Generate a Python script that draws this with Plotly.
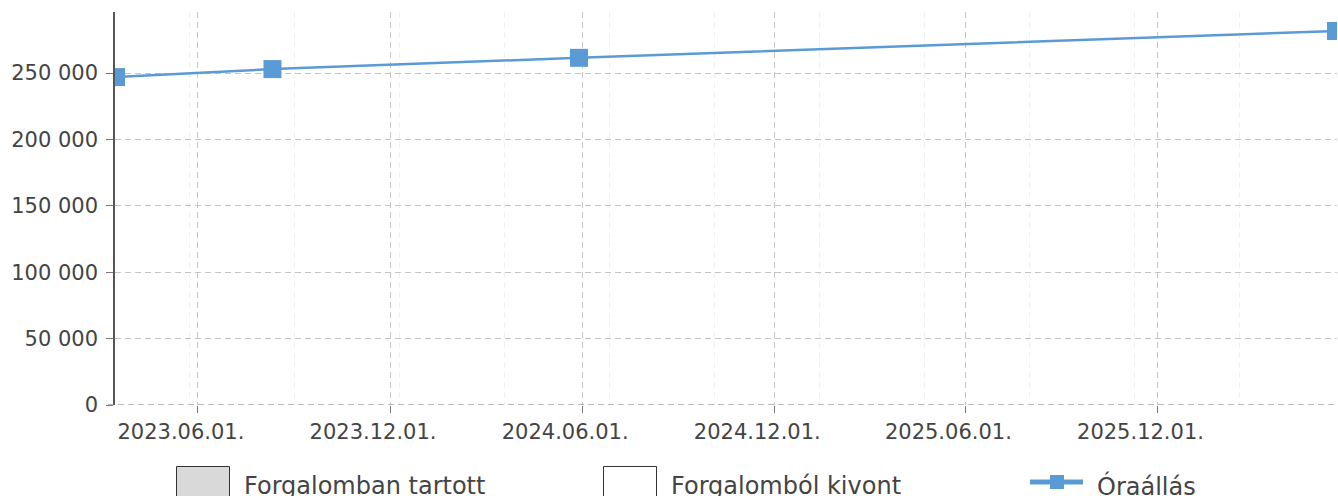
import plotly.graph_objects as go

# ---- data ----
dates = ["2023-03-15", "2023-08-11", "2024-05-29", "2026-05-20"]
readings = [247000, 253000, 261500, 281700]
series_name = "Óraállás"
legend_labels = ["Forgalomban tartott", "Forgalomból kivont", "Óraállás"]
y_ticks = [0, 50000, 100000, 150000, 200000, 250000]

W, H = 1338, 496
L, R, T, B = 115, 1, 12, 91
PW = W - L - R
PH = H - T - B

def px(x):
    return (x - L) / PW

def py(y):
    return (H - B - y) / PH

BLUE = "#5b9bd5"
TXT = "#444444"
FONT = "DejaVu Sans"

fig = go.Figure()
fig.add_trace(go.Scatter(
    x=dates, y=readings, name=series_name, mode="lines+markers",
    line=dict(color=BLUE, width=2.5),
    marker=dict(symbol="square", size=18, color=BLUE, line=dict(width=0)),
    cliponaxis=True, showlegend=False,
))

fig.update_layout(
    width=W, height=H,
    margin=dict(l=L, r=R, t=T, b=B, pad=0),
    paper_bgcolor="white", plot_bgcolor="white",
    separators=". ",
    font=dict(family=FONT, size=21, color=TXT),
    showlegend=False,
)

fig.update_xaxes(
    type="date",
    range=["2023-03-14", "2026-05-21"],
    tickmode="linear", tick0="2023-06-01", dtick="M6",
    tickformat="%Y.%m.%d.",
    ticks="outside", ticklen=7, tickcolor="#777777", tickwidth=1,
    showgrid=True, gridcolor="#c4c4c4", griddash="6px,4px", gridwidth=1,
    minor=dict(tick0="2023-05-24", dtick=100 * 86400000, showgrid=True,
               gridcolor="#f0f0f0", griddash="6px,4px", gridwidth=1, ticks=""),
    showline=False, zeroline=False,
    ticklabelshift=-17, ticklabelstandoff=1,
    tickfont=dict(family=FONT, size=21, color=TXT),
)

fig.update_yaxes(
    range=[0, 296000],
    tickmode="array", tickvals=y_ticks, tickformat=",d",
    ticks="outside", ticklen=7, tickcolor="#777777", tickwidth=1,
    showgrid=True, gridcolor="#c4c4c4", griddash="6px,4px", gridwidth=1,
    showline=True, linecolor="#555555", linewidth=1.5,
    zeroline=False, ticklabelstandoff=4,
    tickfont=dict(family=FONT, size=21, color=TXT),
)

shapes = []
# dashed baseline at y=0
shapes.append(dict(type="line", xref="paper", yref="y", x0=px(108), x1=1, y0=0, y1=0,
                   line=dict(color="#777777", width=1.2, dash="6px,4px"), layer="above"))
# legend swatches
shapes.append(dict(type="rect", xref="paper", yref="paper", x0=px(176.5), x1=px(229.5),
                   y0=py(466.5), y1=py(505), fillcolor="#d9d9d9",
                   line=dict(color="#333333", width=1)))
shapes.append(dict(type="rect", xref="paper", yref="paper", x0=px(603.5), x1=px(656.5),
                   y0=py(466.5), y1=py(505), fillcolor="#ffffff",
                   line=dict(color="#333333", width=1)))
shapes.append(dict(type="line", xref="paper", yref="paper", x0=px(1030), x1=px(1083),
                   y0=py(482), y1=py(482), line=dict(color=BLUE, width=5)))
shapes.append(dict(type="rect", xref="paper", yref="paper", x0=px(1050), x1=px(1064),
                   y0=py(475), y1=py(489), fillcolor=BLUE, line=dict(width=0)))
fig.update_layout(shapes=shapes)

ann_x = [242, 669, 1095]
for lbl, ax in zip(legend_labels, ann_x):
    fig.add_annotation(text=lbl, xref="paper", yref="paper", x=px(ax), y=py(486),
                       xanchor="left", yanchor="middle", showarrow=False,
                       font=dict(family=FONT, size=24, color=TXT))

fig.write_html("out.html", config={"displayModeBar": False},
               post_script="document.body.style.margin='0';document.body.style.overflow='hidden';")
